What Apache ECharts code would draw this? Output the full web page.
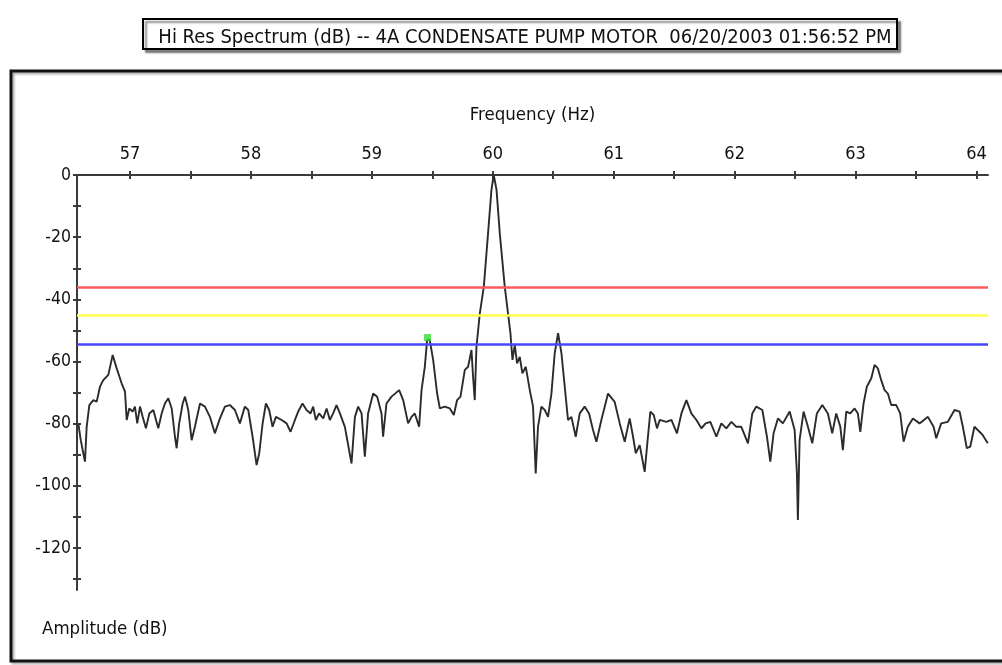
<!DOCTYPE html>
<html>
<head>
<meta charset="utf-8">
<script src="https://cdn.jsdelivr.net/npm/echarts@6/dist/echarts.min.js"></script>
<style>
  html, body { margin: 0; padding: 0; background: #fff; }
  #chart { width: 1002px; height: 665px; }
</style>
</head>
<body>
<div id="chart"></div>
<script>
// Hi-res spectrum around line frequency
const freqHz = [
  56.573, 56.593, 56.614, 56.628, 56.642, 56.664, 56.697, 56.725, 56.752, 56.779,
  56.821, 56.857, 56.890, 56.931, 56.959, 56.973, 56.994, 57.022, 57.041, 57.060,
  57.083, 57.105, 57.132, 57.160, 57.193, 57.234, 57.262, 57.289, 57.317, 57.345,
  57.372, 57.386, 57.407, 57.436, 57.455, 57.482, 57.510, 57.537, 57.579, 57.620,
  57.661, 57.702, 57.744, 57.785, 57.826, 57.868, 57.909, 57.950, 57.978, 58.014,
  58.047, 58.069, 58.097, 58.124, 58.151, 58.179, 58.207, 58.254, 58.295, 58.328,
  58.364, 58.391, 58.427, 58.460, 58.493, 58.515, 58.537, 58.564, 58.598, 58.626,
  58.653, 58.680, 58.708, 58.736, 58.777, 58.832, 58.860, 58.887, 58.915, 58.942,
  58.969, 59.011, 59.044, 59.080, 59.093, 59.121, 59.163, 59.226, 59.259, 59.300,
  59.328, 59.355, 59.391, 59.411, 59.438, 59.457, 59.479, 59.507, 59.540, 59.562,
  59.603, 59.645, 59.678, 59.705, 59.733, 59.769, 59.796, 59.824, 59.837, 59.851,
  59.865, 59.893, 59.926, 59.961, 59.989, 60.008, 60.031, 60.058, 60.099, 60.126,
  60.146, 60.163, 60.182, 60.201, 60.223, 60.245, 60.273, 60.306, 60.333, 60.355,
  60.374, 60.402, 60.430, 60.457, 60.485, 60.512, 60.540, 60.568, 60.595, 60.622,
  60.650, 60.686, 60.719, 60.760, 60.796, 60.829, 60.857, 60.898, 60.953, 61.008,
  61.050, 61.091, 61.132, 61.160, 61.182, 61.215, 61.256, 61.283, 61.303, 61.331,
  61.358, 61.380, 61.436, 61.477, 61.523, 61.560, 61.601, 61.642, 61.684, 61.725,
  61.760, 61.799, 61.849, 61.890, 61.931, 61.973, 62.014, 62.055, 62.083, 62.110,
  62.146, 62.179, 62.229, 62.267, 62.295, 62.322, 62.358, 62.399, 62.455, 62.496,
  62.515, 62.523, 62.537, 62.570, 62.606, 62.642, 62.680, 62.725, 62.771, 62.807,
  62.840, 62.874, 62.895, 62.923, 62.956, 62.992, 63.019, 63.039, 63.066, 63.093,
  63.130, 63.157, 63.184, 63.212, 63.240, 63.267, 63.295, 63.336, 63.369, 63.397,
  63.432, 63.474, 63.529, 63.598, 63.645, 63.667, 63.708, 63.763, 63.818, 63.860,
  63.887, 63.920, 63.948, 63.983, 64.025, 64.052, 64.093
]

const amplitudeDb = [
  -79.9, -85.3, -89.5, -92.2, -81.0, -74.0, -72.4, -72.9, -68.1, -66.0,
  -64.3, -57.9, -62.2, -67.0, -69.7, -78.8, -75.1, -76.1, -74.5, -79.9,
  -74.5, -77.8, -81.5, -76.7, -75.6, -81.5, -76.7, -73.5, -71.8, -75.1,
  -84.2, -87.9, -79.9, -73.5, -71.3, -75.6, -85.3, -81.0, -73.5, -74.5,
  -77.8, -83.1, -78.3, -74.5, -74.0, -75.6, -79.9, -74.5, -75.6, -84.2,
  -93.3, -89.5, -79.9, -73.5, -75.6, -81.0, -77.8, -78.8, -79.9, -82.6,
  -78.8, -76.1, -73.5, -75.6, -76.7, -74.5, -78.8, -76.7, -78.3, -75.1,
  -78.8, -76.7, -74.0, -76.7, -81.0, -92.8, -77.8, -74.5, -76.7, -90.6,
  -76.7, -70.3, -71.3, -76.7, -84.2, -73.5, -71.3, -69.2, -72.4, -79.9,
  -77.8, -76.7, -81.0, -69.2, -61.7, -53.1, -53.1, -59.5, -70.3, -75.1,
  -74.5, -75.1, -77.2, -72.4, -71.3, -62.7, -61.7, -56.3, -64.9, -72.4,
  -55.2, -44.5, -35.9, -18.8, -4.8, 0.0, -4.8, -18.8, -35.9, -44.5,
  -50.9, -59.5, -54.7, -60.6, -58.5, -63.8, -61.7, -69.2, -74.5, -96.0,
  -81.0, -74.5, -75.6, -77.8, -70.3, -57.4, -50.9, -57.4, -68.1, -78.8,
  -77.8, -84.2, -76.7, -74.5, -76.7, -82.0, -85.8, -78.8, -70.3, -73.0,
  -79.9, -85.8, -78.3, -84.2, -89.5, -86.9, -95.5, -84.2, -76.1, -77.2,
  -81.5, -78.8, -79.4, -78.8, -83.1, -76.7, -72.4, -76.7, -78.8, -81.5,
  -79.9, -79.4, -84.2, -79.9, -81.5, -79.4, -81.0, -81.0, -83.7, -86.3,
  -76.7, -74.5, -75.6, -84.2, -92.2, -83.1, -78.3, -79.9, -76.1, -82.0,
  -96.0, -111.0, -85.3, -76.1, -81.0, -86.3, -76.7, -74.0, -76.7, -83.1,
  -76.7, -81.0, -88.5, -76.1, -76.7, -75.1, -76.7, -82.6, -73.5, -68.1,
  -65.4, -61.1, -62.2, -66.0, -69.2, -70.3, -74.0, -74.0, -76.7, -85.8,
  -81.0, -78.3, -79.9, -77.8, -81.0, -84.7, -79.9, -79.4, -75.6, -76.1,
  -81.0, -87.9, -87.4, -81.0, -82.6, -83.7, -86.3
]

// alarm levels: red, yellow, blue
const alarmLevels = [-36, -45, -54.5]
const alarmColors = ['#ff5a5a', '#ffff4d', '#4646ff']

// cursor marker (green)
const cursorPoint = [59.46, -52.3]

const xTickValues = [57, 57.5, 58, 58.5, 59, 59.5, 60, 60.5, 61, 61.5, 62, 62.5, 63, 63.5, 64]
const xLabelValues = [57, 58, 59, 60, 61, 62, 63, 64]
const yTickValues = [0, -10, -20, -30, -40, -50, -60, -70, -80, -90, -100, -110, -120, -130]
const yLabelValues = [0, -20, -40, -60, -80, -100, -120]

const font = '"DejaVu Sans Condensed", "Liberation Sans Narrow", Arial, sans-serif'
const axisColor = '#3a3a3a'

const chart = echarts.init(document.getElementById('chart'))

const xBase = {
    type: 'value',
    position: 'top',
    min: 56.562,
    max: 64.095,
    splitLine: { show: false },
}
const yBase = {
    type: 'value',
    min: -133.5,
    max: 0,
    splitLine: { show: false },
}

chart.setOption({
    animation: false,
    backgroundColor: '#fff',
    textStyle: { fontFamily: font },
    title: [
        {
            text: 'Hi Res Spectrum (dB) -- 4A CONDENSATE PUMP MOTOR  06/20/2003 01:56:52 PM',
            left: 520,
            top: 23,
            textAlign: 'center',
            textStyle: { fontFamily: font, fontSize: 20, fontWeight: 'normal', color: '#111' },
        },
        {
            text: 'Amplitude (dB)',
            left: 37,
            top: 615,
            textStyle: { fontFamily: font, fontSize: 18.5, fontWeight: 'normal', color: '#111' },
        },
    ],
    graphic: [
        {
            type: 'rect',
            z: -1,
            shape: { x: 143, y: 19, width: 754, height: 30 },
            style: {
                fill: '#fff',
                stroke: '#000',
                lineWidth: 2,
                shadowColor: 'rgba(0,0,0,0.45)',
                shadowOffsetX: 3,
                shadowOffsetY: 3,
                shadowBlur: 2,
            },
        },
        {
            type: 'rect',
            z: -1,
            shape: { x: 11, y: 71, width: 1010, height: 590 },
            style: {
                fill: 'none',
                stroke: '#111',
                lineWidth: 3,
                shadowColor: 'rgba(0,0,0,0.3)',
                shadowOffsetX: 2,
                shadowOffsetY: 2,
                shadowBlur: 2,
            },
        },
    ],
    grid: { left: 77, right: 14, top: 175, bottom: 75 },
    xAxis: [
        {
            ...xBase,
            name: 'Frequency (Hz)',
            nameLocation: 'middle',
            nameGap: 50,
            nameTextStyle: { fontFamily: font, fontSize: 18.5, color: '#111' },
            axisLine: { show: true, onZero: false, lineStyle: { color: axisColor, width: 2 } },
            axisTick: { show: true, length: 4, customValues: xTickValues, lineStyle: { color: axisColor, width: 2 } },
            axisLabel: {
                customValues: xLabelValues,
                margin: 12,
                fontFamily: font,
                fontSize: 18,
                color: '#111',
            },
        },
        {
            ...xBase,
            axisLine: { show: false },
            axisTick: { show: true, inside: true, length: 4, customValues: xTickValues, lineStyle: { color: axisColor, width: 2 } },
            axisLabel: { show: false },
        },
    ],
    yAxis: [
        {
            ...yBase,
            axisLine: { show: true, onZero: false, lineStyle: { color: axisColor, width: 2 } },
            axisTick: { show: true, length: 4, customValues: yTickValues, lineStyle: { color: axisColor, width: 2 } },
            axisLabel: {
                customValues: yLabelValues,
                margin: 6,
                fontFamily: font,
                fontSize: 17.5,
                color: '#111',
            },
        },
        {
            ...yBase,
            position: 'left',
            axisLine: { show: false },
            axisTick: { show: true, inside: true, length: 4, customValues: yTickValues, lineStyle: { color: axisColor, width: 2 } },
            axisLabel: { show: false },
        },
    ],
    series: [
        {
            name: 'spectrum',
            type: 'line',
            data: freqHz.map((f, i) => [f, amplitudeDb[i]]),
            showSymbol: false,
            symbol: 'none',
            lineStyle: { color: '#2b2b2b', width: 1.9 },
            z: 3,
            markLine: {
                silent: true,
                symbol: 'none',
                label: { show: false },
                data: alarmLevels.map((v, i) => ({
                    yAxis: v,
                    lineStyle: { color: alarmColors[i], type: 'solid', width: 2.5 },
                })),
            },
        },
        {
            name: 'cursor',
            type: 'scatter',
            data: [cursorPoint],
            symbol: 'rect',
            symbolSize: 7,
            itemStyle: { color: '#2fdc2f' },
            z: 4,
        },
    ],
})
</script>
</body>
</html>
